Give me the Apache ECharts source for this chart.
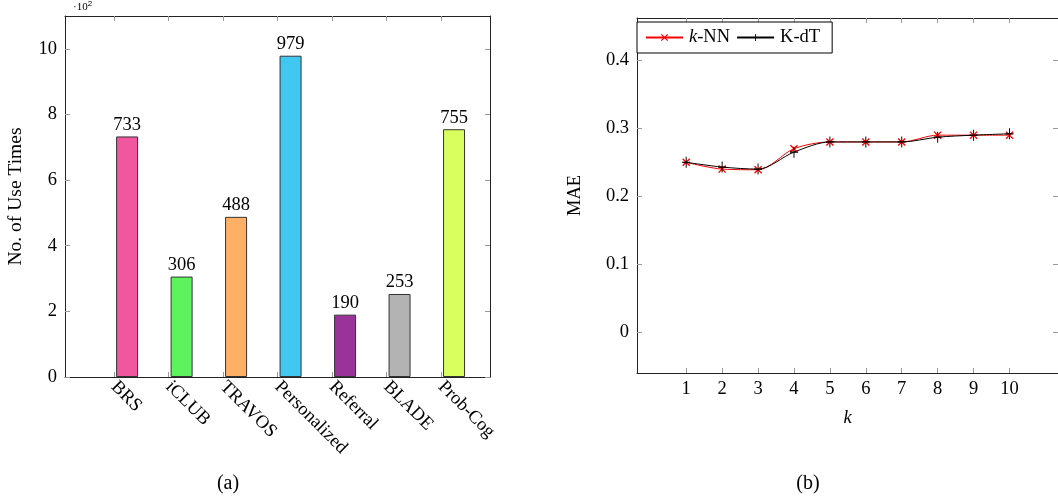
<!DOCTYPE html>
<html>
<head>
<meta charset="utf-8">
<script src="https://cdn.jsdelivr.net/npm/echarts@6/dist/echarts.min.js"></script>
<style>
html,body{margin:0;padding:0;background:#fff;}
#c{width:1058px;height:499px;}
</style>
</head>
<body>
<div id="c"></div>
<script>
// ---- data ----
var methods = ['BRS', 'iCLUB', 'TRAVOS', 'Personalized', 'Referral', 'BLADE', 'Prob-Cog'];
var useTimes = [733, 306, 488, 979, 190, 253, 755];
var barColors = ['#F0579F', '#5EF25E', '#FFB066', '#40C8F2', '#993399', '#B3B3B3', '#D9FF5E'];
var yTicksLeft = [0, 200, 400, 600, 800, 1000];

var kValues = [1, 2, 3, 4, 5, 6, 7, 8, 9, 10];
var maeKNN = [0.250, 0.240, 0.239, 0.270, 0.280, 0.280, 0.280, 0.290, 0.290, 0.290];
var maeKdT = [0.250, 0.243, 0.240, 0.265, 0.280, 0.280, 0.280, 0.287, 0.290, 0.292];
var yTicksRight = [0, 0.1, 0.2, 0.3, 0.4];

var FONT = 'Liberation Serif';
var FS = 18.5;
var chart = echarts.init(document.getElementById('c'));

var catPos = methods.map(function (m, i) { return i + 1; });
var barData = useTimes.map(function (v, i) {
  return { value: [i + 1 + 0.24, v], itemStyle: { color: barColors[i] } };
});
var knnData = kValues.map(function (k, i) { return [k, maeKNN[i]]; });
var kdtData = kValues.map(function (k, i) { return [k, maeKdT[i]]; });

var tickStyle = { show: true, inside: true, length: 5, lineStyle: { color: '#999', width: 1 } };
var lineStyle = { show: true, onZero: false, lineStyle: { color: '#222', width: 1 } };
var crossSym = 'path://M0,1.2 L1.2,0 L5,3.8 L8.8,0 L10,1.2 L6.2,5 L10,8.8 L8.8,10 L5,6.2 L1.2,10 L0,8.8 L3.8,5 Z';
var plusSym = 'path://M4.4,0 H5.6 V4.4 H10 V5.6 H5.6 V10 H4.4 V5.6 H0 V4.4 H4.4 Z';

var option = {
  animation: false,
  textStyle: { fontFamily: FONT },
  grid: [
    { left: 65, top: 16, width: 425, height: 361 },
    { left: 637, top: 18, width: 425, height: 355 }
  ],
  xAxis: [
    { gridIndex: 0, type: 'value', min: 0.1, max: 7.9, position: 'bottom',
      axisLine: lineStyle, splitLine: { show: false },
      axisTick: Object.assign({ customValues: catPos }, tickStyle),
      axisLabel: { customValues: catPos, rotate: -45, margin: 7, fontFamily: FONT, fontSize: FS, color: '#000',
        formatter: function (v) { return methods[Math.round(v) - 1]; } } },
    { gridIndex: 0, type: 'value', min: 0.1, max: 7.9, position: 'top',
      axisLine: lineStyle, splitLine: { show: false },
      axisTick: Object.assign({ customValues: catPos }, tickStyle),
      axisLabel: { show: false } },
    { gridIndex: 1, type: 'value', min: -0.37, max: 11.35, position: 'bottom',
      name: 'k', nameLocation: 'middle', nameGap: 36,
      nameTextStyle: { fontFamily: FONT, fontSize: FS, fontStyle: 'italic', color: '#000' },
      axisLine: lineStyle, splitLine: { show: false },
      axisTick: Object.assign({ customValues: kValues }, tickStyle),
      axisLabel: { customValues: kValues, margin: 7, fontFamily: FONT, fontSize: FS, color: '#000' } },
    { gridIndex: 1, type: 'value', min: -0.37, max: 11.35, position: 'top',
      axisLine: lineStyle, splitLine: { show: false },
      axisTick: Object.assign({ customValues: kValues }, tickStyle),
      axisLabel: { show: false } }
  ],
  yAxis: [
    { gridIndex: 0, type: 'value', min: 0, max: 1100, position: 'left',
      name: 'No. of Use Times', nameLocation: 'middle', nameGap: 39, nameRotate: 90,
      nameTextStyle: { fontFamily: FONT, fontSize: 19.5, color: '#000' },
      axisLine: lineStyle, splitLine: { show: false },
      axisTick: Object.assign({ customValues: yTicksLeft }, tickStyle),
      axisLabel: { customValues: yTicksLeft, margin: 8, fontFamily: FONT, fontSize: FS, color: '#000',
        formatter: function (v) { return String(v / 100); } } },
    { gridIndex: 0, type: 'value', min: 0, max: 1100, position: 'right',
      axisLine: lineStyle, splitLine: { show: false },
      axisTick: Object.assign({ customValues: yTicksLeft }, tickStyle),
      axisLabel: { show: false } },
    { gridIndex: 1, type: 'value', min: -0.0604, max: 0.4626, position: 'left',
      name: 'MAE', nameLocation: 'middle', nameGap: 52, nameRotate: 90,
      nameTextStyle: { fontFamily: FONT, fontSize: FS, color: '#000' },
      axisLine: lineStyle, splitLine: { show: false },
      axisTick: Object.assign({ customValues: yTicksRight }, tickStyle),
      axisLabel: { customValues: yTicksRight, margin: 8, fontFamily: FONT, fontSize: FS, color: '#000',
        formatter: function (v) { return v === 0 ? '0' : v.toFixed(1); } } },
    { gridIndex: 1, type: 'value', min: -0.0604, max: 0.4626, position: 'right',
      axisLine: lineStyle, splitLine: { show: false },
      axisTick: Object.assign({ customValues: yTicksRight }, tickStyle),
      axisLabel: { show: false } }
  ],
  legend: {
    left: 637, top: 22, orient: 'horizontal',
    backgroundColor: '#fff', borderColor: '#000', borderWidth: 1, borderRadius: 0,
    padding: [6, 12, 6, 8], itemGap: 6, itemWidth: 37, itemHeight: 9,
    textStyle: { fontFamily: FONT, fontSize: FS, color: '#000', padding: [0, 0, 0, 1],
      rich: { i: { fontFamily: FONT, fontSize: FS, fontStyle: 'italic', color: '#000' },
              n: { fontFamily: FONT, fontSize: FS, color: '#000' } } },
    formatter: function (name) { return name === 'k-NN' ? '{i|k}{n|-NN}' : '{n|' + name + '}'; },
    data: ['k-NN', 'K-dT']
  },
  graphic: [
    { type: 'text', left: 73, top: 0, style: { text: '·10{s|2}', fontFamily: FONT, fontSize: 11, fill: '#000',
      rich: { s: { fontSize: 8, verticalAlign: 'top', padding: [0, 0, 6, 0] } } } },
    { type: 'text', x: 228, y: 484, style: { text: '(a)', fontFamily: FONT, fontSize: 20, fill: '#000', align: 'center', verticalAlign: 'middle' } },
    { type: 'text', x: 808, y: 484, style: { text: '(b)', fontFamily: FONT, fontSize: 20, fill: '#000', align: 'center', verticalAlign: 'middle' } }
  ],
  series: [
    { type: 'bar', xAxisIndex: 0, yAxisIndex: 0, barWidth: 22, data: barData,
      itemStyle: { borderColor: '#333', borderWidth: 1 },
      label: { show: true, position: 'top', distance: 2, fontFamily: FONT, fontSize: FS, color: '#000',
        formatter: function (p) { return p.value[1]; } } },
    { type: 'line', name: 'k-NN', xAxisIndex: 2, yAxisIndex: 2, data: knnData, smooth: 0.3,
      symbol: crossSym, symbolSize: 8, showSymbol: true,
      lineStyle: { color: '#FF0000', width: 1 }, itemStyle: { color: '#FF0000' } },
    { type: 'line', name: 'K-dT', xAxisIndex: 2, yAxisIndex: 2, data: kdtData, smooth: 0.3,
      symbol: plusSym, symbolSize: [8, 11], showSymbol: true,
      lineStyle: { color: '#000', width: 1 }, itemStyle: { color: '#000' } }
  ]
};
chart.setOption(option);
</script>
</body>
</html>
